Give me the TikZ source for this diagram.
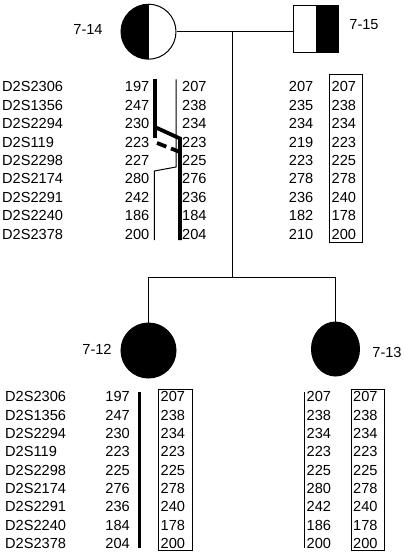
\documentclass[tikz,border=0pt]{standalone}
\usepackage{fontspec}
\setmainfont{Liberation Sans}
\usetikzlibrary{shapes.geometric}
\tikzset{
  lab/.style={inner sep=0pt, font=\fontsize{14.6}{16}\selectfont},
  ped/.style={line width=0.8pt},
  person/.style={draw, line width=1pt, inner sep=0pt},
  thickbar/.style={line width=3.8pt},
  thinbar/.style={line width=1pt},
  allelebox/.style={line width=0.9pt}
}
\begin{document}
\begin{tikzpicture}[x=1pt,y=-1pt]
\useasboundingbox (0,0) rectangle (404,552);
% ---------- pedigree ----------
\node[person, circle, minimum size=55pt,
  path picture={\fill (path picture bounding box.south west) rectangle (path picture bounding box.north);}]
  (p14) at (148.5,31.7) {};
\node[person, rectangle, minimum width=45pt, minimum height=47pt,
  path picture={\fill (path picture bounding box.south east) rectangle ([xshift=0.5pt]path picture bounding box.north);}]
  (p15) at (315.8,28.7) {};
\node[person, circle, fill=black, minimum size=55pt] (p12) at (148.5,350.5) {};
\node[person, ellipse, fill=black, minimum width=48pt, minimum height=54pt] (p13) at (335.5,349) {};
\node[lab, anchor=center] (l14) at (88,29) {7-14};
\node[lab, anchor=center] (l15) at (364,25) {7-15};
\node[lab, anchor=center] (l12) at (97,349) {7-12};
\node[lab, anchor=center] (l13) at (387,352) {7-13};

\coordinate (mid) at (232.3,31.7);
\coordinate (sib) at (232.3,277.3);
\coordinate (sibL) at (p12.north |- sib);
\coordinate (sibR) at (p13.north |- sib);
\draw[ped] (p14.east) -- (p14.east -| p15.west);
\draw[ped] (mid) -- (sib);
\draw[ped] (sibL) -- (sibR);
\draw[ped] (sibL) -- (p12.north);
\draw[ped] (sibR) -- (p13.north);

% ---------- top haplotypes ----------
\foreach \t [count=\i from 0] in {D2S2306,D2S1356,D2S2294,D2S119,D2S2298,D2S2174,D2S2291,D2S2240,D2S2378}{
  \node[lab, anchor=west] (tm\i) at (2,86.8+18.4*\i) {\t};
  \node[lab, anchor=west] (bm\i) at (5,396.7+18.33*\i) {\t};
}
\foreach \t [count=\i from 0] in {197,247,230,223,227,280,242,186,200}
  \node[lab, anchor=east] (a\i) at (149.5,86.8+18.4*\i) {\t};
\foreach \t [count=\i from 0] in {207,238,234,223,225,276,236,184,204}
  \node[lab, anchor=west] (b\i) at (182,86.8+18.4*\i) {\t};
\foreach \t [count=\i from 0] in {207,235,234,219,223,278,236,182,210}
  \node[lab, anchor=east] (c\i) at (313.5,86.8+18.4*\i) {\t};
\foreach \t [count=\i from 0] in {207,238,234,223,225,278,240,178,200}
  \node[lab, anchor=west] (d\i) at (331.5,86.8+18.4*\i) {\t};
\draw[allelebox] (329.3,74.3) rectangle (362.7,242);

% 7-14 bars
\draw[thinbar] (176,79.3) -- (176,167) -- (154.3,171) -- (154.3,240);
\draw[thickbar] (154.8,79.3) -- (154.8,138);
\draw[thickbar, line join=miter] (154.8,127) -- (180,138.5) -- (180,240);
\draw[thickbar, dash pattern=on 10pt off 5pt] (157,143) -- (180,152);

% ---------- bottom haplotypes ----------
\foreach \t [count=\i from 0] in {197,247,230,223,225,276,236,184,204}
  \node[lab, anchor=east] (e\i) at (130,396.7+18.33*\i) {\t};
\foreach \t [count=\i from 0] in {207,238,234,223,225,278,240,178,200}
  \node[lab, anchor=west] (f\i) at (160.5,396.7+18.33*\i) {\t};
\foreach \t [count=\i from 0] in {207,238,234,223,225,280,242,186,200}
  \node[lab, anchor=west] (g\i) at (306.5,396.7+18.33*\i) {\t};
\foreach \t [count=\i from 0] in {207,238,234,223,225,278,240,178,200}
  \node[lab, anchor=west] (h\i) at (353,396.7+18.33*\i) {\t};
\draw[thickbar] (139.5,392) -- (139.5,548);
\draw[allelebox] (158,389.3) rectangle (192,550);
\draw[thinbar] (304,392) -- (304,548);
\draw[allelebox] (351,389.3) rectangle (384.3,550);
\end{tikzpicture}
\end{document}
